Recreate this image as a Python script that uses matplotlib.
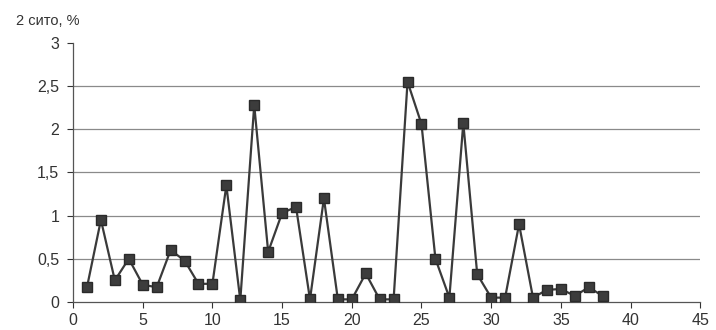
import matplotlib
matplotlib.use('Agg')
import matplotlib.pyplot as plt
from matplotlib.ticker import FuncFormatter

# Data
x_vals = list(range(1, 39))
y_vals = [0.17, 0.95, 0.25, 0.5, 0.2, 0.17, 0.6, 0.48, 0.21, 0.21,
          1.35, 0.02, 2.28, 0.58, 1.03, 1.1, 0.03, 1.2, 0.03, 0.03,
          0.33, 0.03, 0.03, 2.55, 2.06, 0.5, 0.05, 2.07, 0.32, 0.05,
          0.05, 0.9, 0.05, 0.14, 0.15, 0.07, 0.17, 0.07]
x_ticks = [0, 5, 10, 15, 20, 25, 30, 35, 40, 45]
y_ticks = [0, 0.5, 1, 1.5, 2, 2.5, 3]

plt.rcParams['font.family'] = ['Liberation Sans', 'DejaVu Sans']

fig = plt.figure(figsize=(7.16, 3.3), dpi=100)
ax = fig.add_axes([0.102, 0.085, 0.876, 0.785])

# Grid lines (none at the top value)
for yv in y_ticks[1:-1]:
    ax.axhline(yv, color='#8a8a8a', linewidth=0.9, zorder=1)

ax.plot(x_vals, y_vals, color='#3a3a3a', linewidth=1.6, marker='s',
        markersize=7.5, markerfacecolor='#3c3c3c', markeredgecolor='#2a2a2a',
        zorder=3)

ax.set_xlim(0, 45)
ax.set_ylim(0, 3)
ax.set_xticks(x_ticks)
ax.set_yticks(y_ticks)
ax.yaxis.set_major_formatter(FuncFormatter(lambda v, p: ('%g' % v).replace('.', ',')))

for s in ['top', 'right']:
    ax.spines[s].set_visible(False)
for s in ['left', 'bottom']:
    ax.spines[s].set_color('#555555')
    ax.spines[s].set_linewidth(0.9)

ax.tick_params(axis='both', labelsize=11.5, colors='#333333', length=4, width=0.8)
ax.tick_params(axis='y', pad=6)
ax.tick_params(axis='x', pad=4)

fig.text(0.022, 0.925, '2 сито, %', fontsize=10.5, color='#333333')

plt.savefig('out.png', dpi=100)
plt.close()
